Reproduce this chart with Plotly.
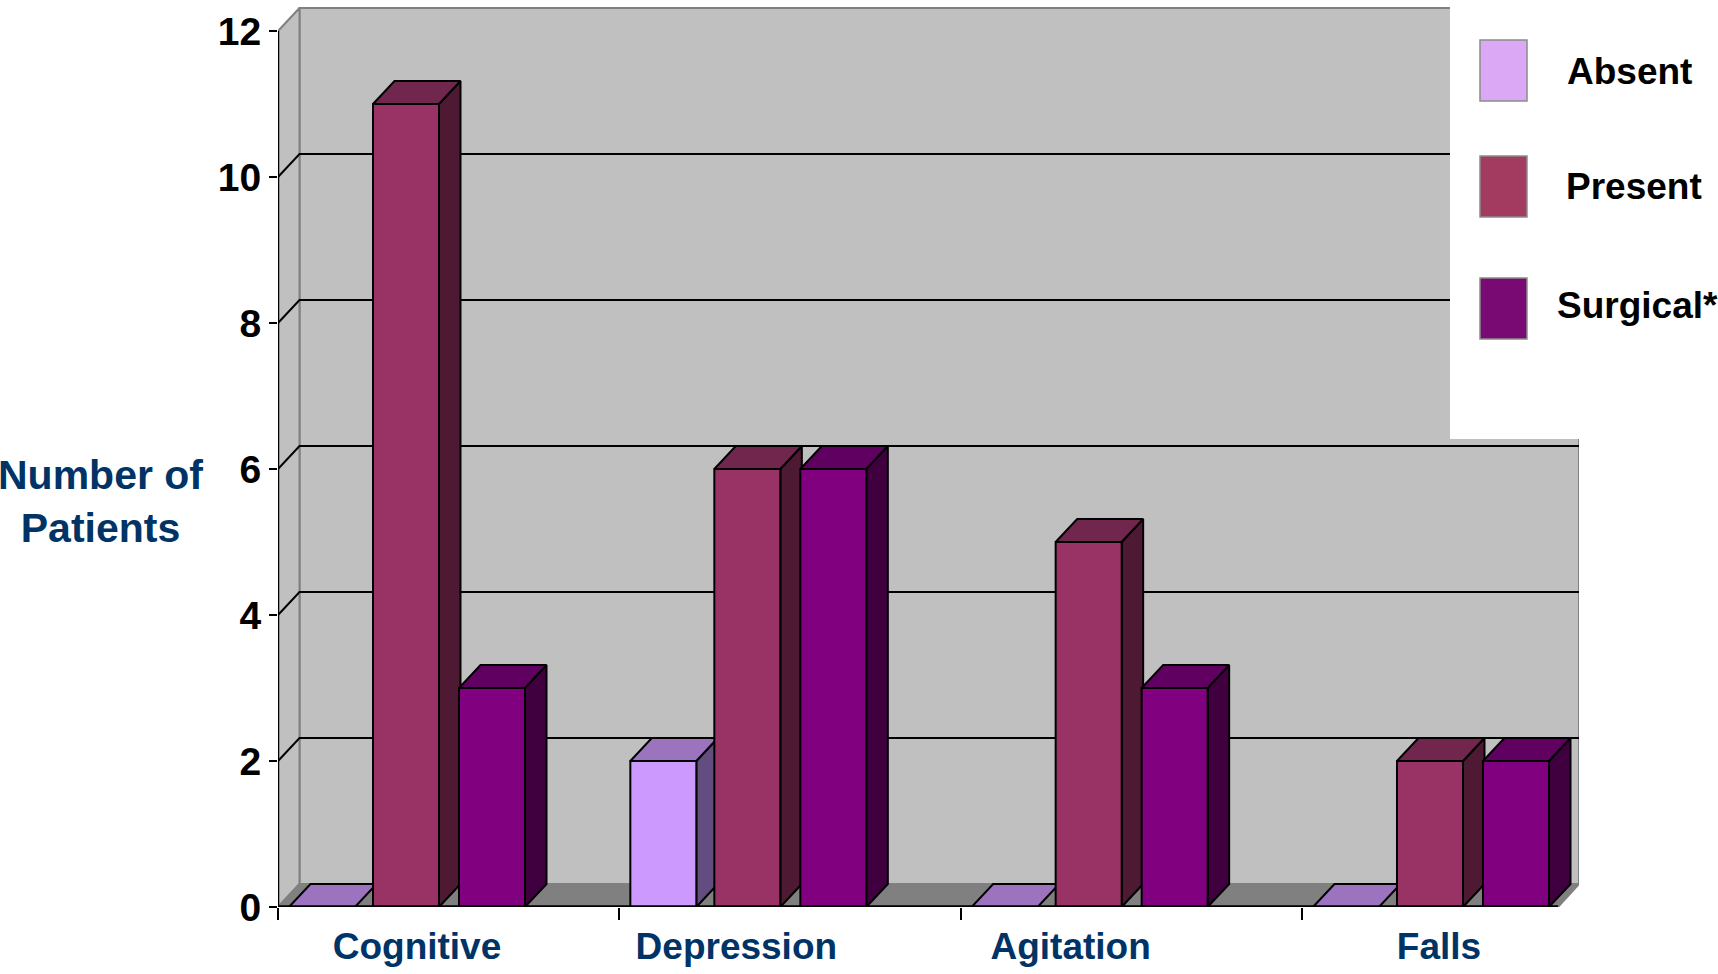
import plotly.graph_objects as go

# Patients per symptom, by series
categories = ["Cognitive", "Depression", "Agitation", "Falls"]
absent = [0, 2, 0, 0]
present = [11, 6, 5, 2]
surgical = [3, 6, 3, 2]
y_ticks = [0, 2, 4, 6, 8, 10, 12]
legend_labels = ["Absent", "Present", "Surgical*"]

FONT = "Liberation Sans Narrow, Liberation Sans, Arial"
NAVY = "#003366"
WALL = "#C0C0C0"
FLOOR = "#808080"
EDGE = "#808080"

# Canvas and plot box, in pixels
W, H = 1718, 974
LEFT, RIGHT, TOP, BOTTOM = 278, 1579, 7, 907
PX_PER_CAT = 341.33
PX_PER_UNIT = 73.0

# Oblique depth of the pseudo-3D box, in axis units
DX = 21.5 / PX_PER_CAT
DY = 23.0 / PX_PER_UNIT
X_END = (1558 - LEFT) / PX_PER_CAT
X_MAX = (RIGHT - LEFT) / PX_PER_CAT
Y_MAX = (BOTTOM - TOP) / PX_PER_UNIT
Y_TOP = 12

# Bar placement inside each category, in axis units
BAR_W = 66 / PX_PER_CAT
SERIES = [
    ("Absent", absent, 11 / PX_PER_CAT, "#CC99FF", "#634D80", "#9B73BF"),
    ("Present", present, 95 / PX_PER_CAT, "#993366", "#4D1933", "#70264D"),
    ("Surgical*", surgical, 181 / PX_PER_CAT, "#800080", "#400040", "#600060"),
]
LABEL_POS = [139 / PX_PER_CAT, 1 + 117 / PX_PER_CAT, 2 + 110 / PX_PER_CAT, 3 + 137 / PX_PER_CAT]

fig = go.Figure()


def face(xs, ys, fill, line="#000000", width=2, name=None):
    fig.add_trace(go.Scatter(
        x=xs + xs[:1], y=ys + ys[:1], mode="lines", fill="toself", fillcolor=fill,
        line=dict(color=line, width=width), cliponaxis=False, showlegend=False,
        name=name, hoverinfo="skip" if name is None else "name",
    ))


def segment(xs, ys, color="#000000", width=2):
    fig.add_trace(go.Scatter(
        x=xs, y=ys, mode="lines", line=dict(color=color, width=width),
        cliponaxis=False, showlegend=False, hoverinfo="skip",
    ))


# Walls and floor of the box
face([DX, X_MAX, X_MAX, DX], [DY, DY, Y_TOP + DY, Y_TOP + DY], WALL, EDGE)
face([0, DX, DX, 0], [0, DY, Y_TOP + DY, Y_TOP], WALL, EDGE)
face([0, X_END, X_MAX, DX], [0, 0, DY, DY], FLOOR, EDGE)

# Gridlines wrap from the side wall on to the back wall
for v in y_ticks[1:-1]:
    segment([0, DX, X_MAX], [v, v + DY, v + DY])

# Bars, back faces first so later bars sit over earlier ones
for i in range(len(categories)):
    for name, values, offset, front, side, top in SERIES:
        x0 = i + offset
        x1 = x0 + BAR_W
        v = values[i]
        if v > 0:
            face([x1, x1 + DX, x1 + DX, x1], [0, DY, v + DY, v], side, name=name)
        face([x0, x1, x1 + DX, x0 + DX], [v, v, v + DY, v + DY], top, name=name)
        if v > 0:
            face([x0, x1, x1, x0], [0, 0, v, v], front, name=f"{name}: {v}")

# Front axis lines
segment([0, 0], [0, Y_TOP], "#000000", 2.5)
segment([0, X_END], [0, 0], "#000000", 3.5)


def px_x(p):
    return (p - LEFT) / (RIGHT - LEFT)


def px_y(p):
    return (BOTTOM - p) / (BOTTOM - TOP)


# White legend panel with hand-sized swatches
shapes = [dict(type="rect", xref="paper", yref="paper", layer="above",
               x0=px_x(1450), x1=px_x(W), y0=px_y(439), y1=px_y(0),
               fillcolor="#FFFFFF", line=dict(width=0))]
annotations = []
swatch_colors = ["#DAA8F4", "#A33B60", "#7A0A73"]
swatch_tops = [40, 156, 278]
label_centres = [(1629, 72), (1634, 187), (1637, 305)]
for label, color, top, (cx, cy) in zip(legend_labels, swatch_colors, swatch_tops, label_centres):
    shapes.append(dict(type="rect", xref="paper", yref="paper", layer="above",
                       x0=px_x(1480), x1=px_x(1527), y0=px_y(top + 61), y1=px_y(top),
                       fillcolor=color, line=dict(color="#8C8C8C", width=1.5)))
    annotations.append(dict(xref="paper", yref="paper", x=px_x(cx), y=px_y(cy),
                            text=f"<b>{label}</b>", showarrow=False,
                            xanchor="center", yanchor="middle",
                            font=dict(family=FONT, size=37, color="#000000")))

# Horizontal value-axis title
annotations.append(dict(xref="paper", yref="paper", x=px_x(100), y=px_y(501),
                        text="<b>Number of<br>Patients</b>", showarrow=False,
                        xanchor="center", yanchor="middle", align="center",
                        font=dict(family=FONT, size=41, color=NAVY)))

fig.update_layout(
    width=W, height=H, autosize=False,
    margin=dict(l=LEFT, r=W - RIGHT, t=TOP, b=H - BOTTOM, pad=0, autoexpand=False),
    paper_bgcolor="#FFFFFF", plot_bgcolor="#FFFFFF",
    showlegend=False, shapes=shapes, annotations=annotations,
    xaxis=dict(
        range=[0, X_MAX], showgrid=False, zeroline=False, showline=False,
        tickmode="array", tickvals=LABEL_POS, ticktext=[f"<b>{c}</b>" for c in categories],
        ticks="", tickfont=dict(family=FONT, size=37, color=NAVY), ticklabelstandoff=14,
        minor=dict(tickmode="array", tickvals=list(range(len(categories))), ticks="outside",
                   ticklen=12, tickwidth=1.5, tickcolor="#000000"),
    ),
    yaxis=dict(
        range=[0, Y_MAX], showgrid=False, zeroline=False, showline=False,
        tickmode="array", tickvals=y_ticks, ticktext=[f"<b>{v}</b>" for v in y_ticks],
        ticks="outside", ticklen=8, tickwidth=2, tickcolor="#000000",
        tickfont=dict(family=FONT, size=39, color="#000000"),
    ),
)

fig.write_html("out.html")
